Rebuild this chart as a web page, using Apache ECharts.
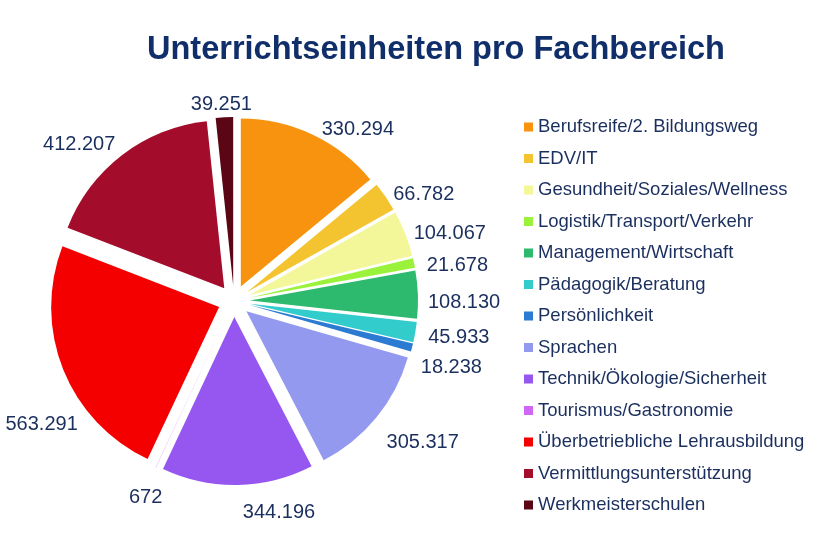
<!DOCTYPE html>
<html lang="de">
<head>
<meta charset="UTF-8">
<title>Unterrichtseinheiten pro Fachbereich</title>
<script src="https://cdn.jsdelivr.net/npm/echarts@6/dist/echarts.min.js"></script>
<style>
  html, body { margin: 0; padding: 0; background: #fff; }
  #main { width: 816px; height: 544px; }
</style>
</head>
<body>
<div id="main"></div>
<script type="text/javascript">
// Fachbereiche und Unterrichtseinheiten
var categories = [
  'Berufsreife/2. Bildungsweg',
  'EDV/IT',
  'Gesundheit/Soziales/Wellness',
  'Logistik/Transport/Verkehr',
  'Management/Wirtschaft',
  'Pädagogik/Beratung',
  'Persönlichkeit',
  'Sprachen',
  'Technik/Ökologie/Sicherheit',
  'Tourismus/Gastronomie',
  'Überbetriebliche Lehrausbildung',
  'Vermittlungsunterstützung',
  'Werkmeisterschulen'
];
var values = [330294, 66782, 104067, 21678, 108130, 45933, 18238, 305317, 344196, 672, 563291, 412207, 39251];
var colors = ['#F7930F', '#F4C430', '#F3F79A', '#9BF23A', '#2EBA6E', '#33CCCC', '#2B7BD3',
  '#9499F0', '#9656F0', '#CF66F5', '#F50000', '#A30D2B', '#5A0615'];

// kleine Verschiebungen der Beschriftungen wie im Original [dx, dy]
var labelNudge = [[-3, 2], [-8, 2], [-8, 3], [-4, 4], [-7, 8], [-4, 4], [-8, 18],
  [-5, 20], [-4, 20], [19, 23], [31, 52], [7, -4], [37, -5]];

// deutsche Tausenderpunkte
function fmt(v) {
  return String(v).replace(/\B(?=(\d{3})+(?!\d))/g, '.');
}

var chart = echarts.init(document.getElementById('main'));

var pieData = categories.map(function (name, i) {
  return { name: name, value: values[i], selected: true, itemStyle: { color: colors[i] } };
});

var option = {
  animation: false,
  title: {
    text: 'Unterrichtseinheiten pro Fachbereich',
    left: 431,
    top: 29,
    textAlign: 'center',
    textStyle: {
      fontFamily: 'Liberation Sans, Arial, sans-serif',
      fontSize: 32.5,
      fontWeight: 'bold',
      color: '#102E6A'
    }
  },
  legend: {
    orient: 'vertical',
    left: 519,
    top: 112,
    icon: 'rect',
    itemWidth: 9,
    itemHeight: 9,
    itemGap: 11.5,
    data: categories,
    selectedMode: false,
    textStyle: {
      fontFamily: 'Liberation Sans, Arial, sans-serif',
      fontSize: 18.5,
      lineHeight: 20,
      color: '#1B2F5E'
    }
  },
  series: [{
    type: 'pie',
    center: [234, 301],
    radius: 168,
    startAngle: 90,
    clockwise: true,
    selectedMode: 'multiple',
    selectedOffset: 16,
    avoidLabelOverlap: false,
    label: {
      show: true,
      position: 'outside',
      formatter: function (p) { return fmt(p.value); },
      fontFamily: 'Liberation Sans, Arial, sans-serif',
      fontSize: 20,
      color: '#1B2F5E'
    },
    labelLine: { show: false, length: 8, length2: 4 },
    labelLayout: function (p) {
      var n = labelNudge[p.dataIndex];
      return { dx: n[0], dy: n[1], hideOverlap: false };
    },
    emphasis: { disabled: true },
    data: pieData
  }]
};

chart.setOption(option);
</script>
</body>
</html>
